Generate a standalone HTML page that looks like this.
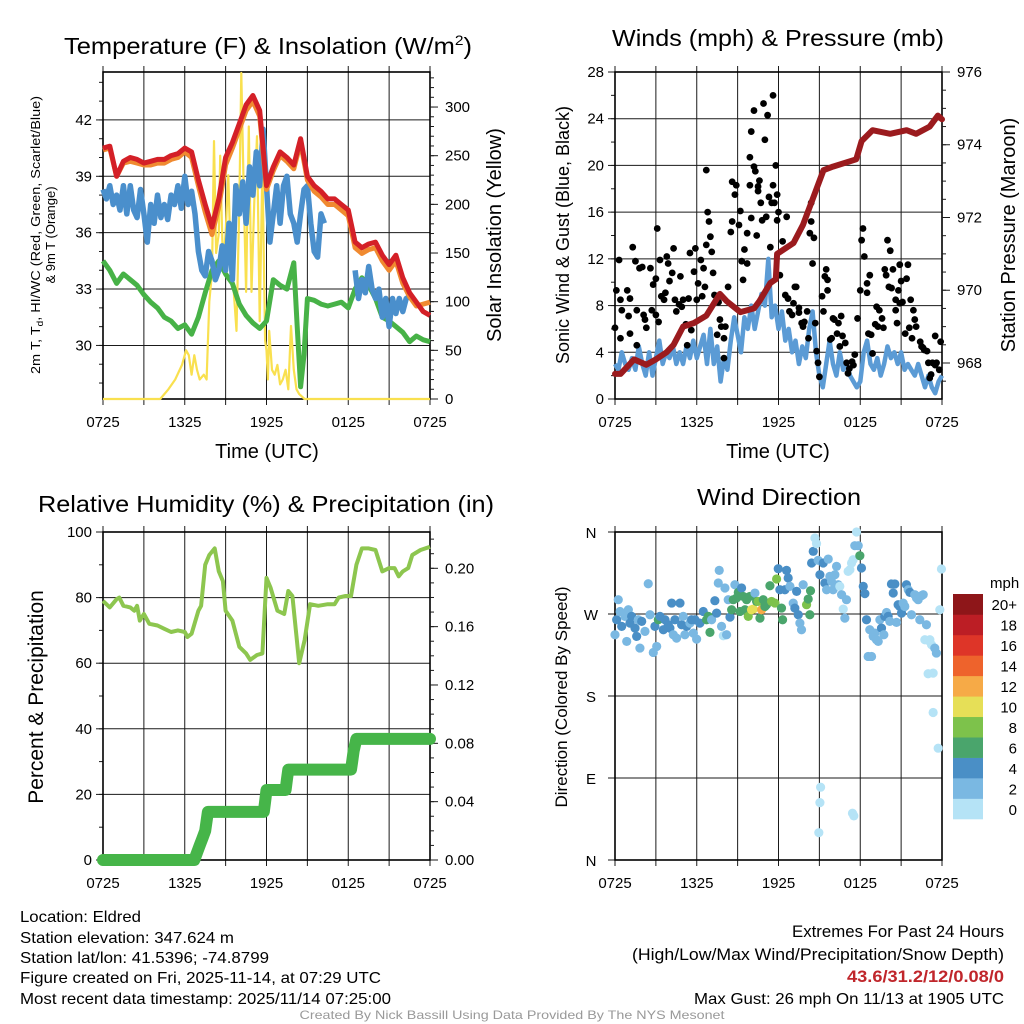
<!DOCTYPE html>
<html><head><meta charset="utf-8"><style>
html,body{margin:0;padding:0;background:#fff;}
svg{display:block;font-family:"Liberation Sans",sans-serif;}
</style></head><body>
<svg id="root" width="1024" height="1024" viewBox="0 0 1024 1024" xmlns="http://www.w3.org/2000/svg">
<g fill="#000">
<text x="64" y="54" font-size="23" textLength="408" lengthAdjust="spacingAndGlyphs">Temperature (F) &amp; Insolation (W/m<tspan font-size="14" dy="-9">2</tspan><tspan dy="9">)</tspan></text>
<text x="612" y="46" font-size="23" textLength="332" lengthAdjust="spacingAndGlyphs">Winds (mph) &amp; Pressure (mb)</text>
<text x="38" y="512" font-size="23" textLength="456" lengthAdjust="spacingAndGlyphs">Relative Humidity (%) &amp; Precipitation (in)</text>
<text x="697" y="505" font-size="23" textLength="164" lengthAdjust="spacingAndGlyphs">Wind Direction</text>
</g>
<g id="p1"></g>
<g id="p2"></g>
<g id="p3"></g>
<g id="p4"></g>
<g fill="#000">
<text x="267" y="458" font-size="20" text-anchor="middle">Time (UTC)</text>
<text x="778" y="458" font-size="20" text-anchor="middle">Time (UTC)</text>
<g transform="translate(40,235) rotate(-90)"><text x="0" y="0" font-size="13" text-anchor="middle" textLength="278" lengthAdjust="spacingAndGlyphs">2m T, T<tspan font-size="9" dy="3">d</tspan><tspan dy="-3">, HI/WC (Red, Green, Scarlet/Blue)</tspan></text><text x="0" y="15" font-size="13" text-anchor="middle">&amp; 9m T (Orange)</text></g>
<text transform="translate(501,235) rotate(-90)" font-size="20" text-anchor="middle">Solar Insolation (Yellow)</text>
<text transform="translate(569,235) rotate(-90)" font-size="18" text-anchor="middle">Sonic Wind &amp; Gust (Blue, Black)</text>
<text transform="translate(1015,235) rotate(-90)" font-size="20" text-anchor="middle">Station Pressure (Maroon)</text>
<text transform="translate(43,697) rotate(-90)" font-size="21" text-anchor="middle">Percent &amp; Precipitation</text>
<text transform="translate(567,697) rotate(-90)" font-size="17" text-anchor="middle">Direction (Colored By Speed)</text>
</g>
<g font-size="16" fill="#000">
<text x="20" y="922" textLength="121" lengthAdjust="spacingAndGlyphs">Location: Eldred</text>
<text x="20" y="943" textLength="214" lengthAdjust="spacingAndGlyphs">Station elevation: 347.624 m</text>
<text x="20" y="963" textLength="249" lengthAdjust="spacingAndGlyphs">Station lat/lon: 41.5396; -74.8799</text>
<text x="20" y="983" textLength="361" lengthAdjust="spacingAndGlyphs">Figure created on Fri, 2025-11-14, at 07:29 UTC</text>
<text x="20" y="1004" textLength="371" lengthAdjust="spacingAndGlyphs">Most recent data timestamp: 2025/11/14 07:25:00</text>
</g>
<g font-size="17" fill="#000" text-anchor="end">
<text x="1004" y="937" textLength="212" lengthAdjust="spacingAndGlyphs">Extremes For Past 24 Hours</text>
<text x="1004" y="960" textLength="372" lengthAdjust="spacingAndGlyphs">(High/Low/Max Wind/Precipitation/Snow Depth)</text>
<text x="1004" y="982" fill="#c0262b" font-weight="bold" textLength="157" lengthAdjust="spacingAndGlyphs">43.6/31.2/12/0.08/0</text>
<text x="1004" y="1004" font-size="16" textLength="310" lengthAdjust="spacingAndGlyphs">Max Gust: 26 mph On 11/13 at 1905 UTC</text>
</g>
<text x="512" y="1019" font-size="12" fill="#999" text-anchor="middle" textLength="425" lengthAdjust="spacingAndGlyphs">Created By Nick Bassill Using Data Provided By The NYS Mesonet</text>
</svg>
<script>
// ---------- data ----------
const xTickLabels = ["0725","1325","1925","0125","0725"];
const tempTicks = [30,33,36,39,42];
const solarTicks = [0,50,100,150,200,250,300];
const tHours05 = [0,0.5,1,1.5,2,2.5,3,3.5,4,4.5,5,5.5,6,6.5,7,7.5,8,8.5,9,9.5,10,10.5,11,11.5,12,12.5,13,13.5,14,14.5,15,15.5,16,16.5,17,17.5,18,18.5,19,19.5,20,20.5,21,21.5,22,22.5,23,23.5,24];
const redTemp = [40.5,40.6,39,39.8,40,39.9,39.7,39.8,39.9,39.9,40.1,40.2,40.5,40.3,38.8,37.5,36.3,37.8,40,40.8,41.8,42.8,43.3,42.5,38.5,39.5,40.3,40,39.6,41,39,38.5,38.2,37.8,37.8,37.5,37.2,35.5,35.2,35.4,35.5,34.8,34.3,34.8,33.6,32.8,32.3,31.8,31.6];
const orangeTemp = [40.4,40.5,39,39.7,39.8,39.7,39.6,39.6,39.7,39.7,39.9,40,40.3,40,38.5,37.1,35.9,37.4,39.6,40.5,41.5,42.5,43,42.2,38.3,39.3,40.1,39.8,39.4,40.8,38.8,38.2,37.9,37.5,37.5,37.2,36.9,35.2,34.9,35.1,35.2,34.5,34,34.5,33.3,32.6,32.1,32.2,32.3];
const greenHours = [0,0.5,1,1.5,2,2.5,3,3.5,4,4.5,5,5.5,6,6.5,7,7.5,8,8.5,9,9.5,10,10.5,11,11.5,12,12.5,13,13.5,14,14.25,14.5,14.75,15,15.5,16,16.5,17,17.5,18,18.5,19,19.5,20,20.5,21,21.5,22,22.5,23,23.5,24];
const greenDew = [34.5,34,33.3,33.8,33.5,33.2,32.7,32.3,32,31.5,31.3,30.9,31.1,30.6,31.5,32.8,34,34.5,33.8,33.3,32.2,31.6,31.2,30.9,31.3,33.5,33.2,33,34.4,31,27.8,29.5,32.5,32.4,32.2,32.1,32.2,32.3,32,33,33.6,33.2,32.5,31.5,31.3,31,30.7,30.2,30.5,30.3,30.2];
const blueHours = [0,0.25,0.5,0.75,1,1.25,1.5,1.75,2,2.25,2.5,2.75,3,3.25,3.5,3.75,4,4.25,4.5,4.75,5,5.25,5.5,5.75,6,6.25,6.5,6.75,7,7.25,7.5,7.75,8,8.25,8.5,8.75,9,9.25,9.5,9.75,10,10.25,10.5,10.75,11,11.25,11.5,11.75,12,12.25,12.5,12.75,13,13.25,13.5,13.75,14,14.25,14.5,14.75,15,15.25,15.5,15.75,16,16.25,16.5,18.25,18.5,18.75,19,19.25,19.5,19.75,20,20.25,20.5,20.75,21,21.25,21.5,21.75,22,22.25,22.5];
const blueChill = [38.3,37.8,38.5,37.5,38,37.2,38.5,37,38.5,37.2,36.8,38.3,37,35.5,37.5,36.5,38,36.8,37.5,36.7,38,37.5,38.5,37.3,39,37.5,38.2,37,35,34,33.7,35,34.5,33.5,34,35.3,34,36.5,33.5,38.5,37,38.7,36.5,39.5,38,40.3,38.5,41.5,38.5,35.5,37,38.5,36.5,38.5,39,37,36.5,35.5,37,38.3,38.5,36.5,35,34.7,37,36.5,null,null,34,32.5,33.5,32.8,34.2,33,32.5,33,31.5,32.5,31,32.5,31.7,32.5,31.8,32.5,32.6];
const solarHours = [0,4.2,4.8,5.3,5.8,6.1,6.3,6.5,6.7,6.9,7.1,7.4,7.6,7.8,8.0,8.15,8.3,8.5,8.6,8.8,9.0,9.2,9.4,9.6,9.8,10.0,10.15,10.35,10.5,10.7,10.9,11.1,11.3,11.5,11.7,11.9,12.0,12.1,12.2,12.4,12.6,12.8,13.0,13.2,13.4,13.6,13.8,14.0,14.2,14.4,14.8,24];
const solarWm2 = [0,0,10,20,35,50,45,25,45,30,20,25,20,100,130,265,150,170,250,140,170,230,130,110,70,200,335,200,110,280,110,200,270,80,240,60,50,20,70,30,25,35,15,20,30,10,75,30,10,5,0,0];

const windTicks = [0,4,8,12,16,20,24,28];
const pressTicks = [968,970,972,974,976];
const sonicHours = [0,0.25,0.5,0.75,1,1.25,1.5,1.75,2,2.25,2.5,2.75,3,3.25,3.5,3.75,4,4.25,4.5,4.75,5,5.25,5.5,5.75,6,6.25,6.5,6.75,7,7.25,7.5,7.75,8,8.25,8.5,8.75,9,9.25,9.5,9.75,10,10.25,10.5,10.75,11,11.25,11.5,11.75,12,12.25,12.5,12.75,13,13.25,13.5,13.75,14,14.25,14.5,14.75,15,15.25,15.5,15.75,16,16.25,16.5,16.75,17,17.25,17.5,17.75,18,18.25,18.5,18.75,19,19.25,19.5,19.75,20,20.25,20.5,20.75,21,21.25,21.5,21.75,22,22.25,22.5,22.75,23,23.25,23.5,23.75,24];
const sonicMph = [3,2.5,4,3,2.5,3.5,2.5,4.5,3,2,4,2,3.5,5,3,4,3.5,4.5,3,4,3,4.5,3.5,5,3.5,4.5,5.5,3,6,3,4.5,1.5,3.5,2.5,5,7,5.5,4,7,6,8,6,7.5,9,8,12,7,8,6,7.5,5,6,4,5,3,4.5,3.5,6,7.5,4,2,1,3,5,3,2,4,2.5,3,2,1.5,1,1.5,4,5,3,2.5,3.5,2,3,4.5,3.5,4,3,4,2.5,3,2.5,2,3,2,1,2,1,0.5,1.5,2];
const gustHours = [0,0.1,0.3,0.4,0.4,0.5,0.9,1.0,1.1,1.1,1.3,1.5,1.6,1.6,1.8,2.0,2.1,2.2,2.3,2.6,2.7,2.8,3.0,3.0,3.1,3.2,3.3,3.4,3.6,3.7,3.8,3.9,4.0,4.2,4.3,4.4,4.5,4.7,4.8,4.9,5.0,5.2,5.3,5.4,5.5,5.6,5.8,5.9,6.0,6.1,6.3,6.4,6.5,6.6,6.7,6.7,6.8,6.9,7.0,7.1,7.2,7.3,7.5,7.6,7.7,7.8,8.0,8.1,8.0,8.3,8.5,8.6,8.6,8.8,8.9,9.1,9.2,9.3,9.4,9.5,9.7,9.7,9.9,9.9,10.0,10.0,10.2,10.2,10.3,10.4,10.5,10.5,10.6,10.7,10.8,10.9,11.0,11.1,11.2,11.3,11.4,11.5,11.6,11.6,11.7,11.8,11.9,11.9,12.0,12.1,12.3,12.5,12.6,12.7,12.8,13.0,13.1,13.2,13.3,13.5,13.5,13.7,13.8,13.9,14.1,14.2,14.3,14.4,14.4,14.5,14.6,14.7,14.8,14.9,15.0,15.2,15.3,15.4,15.5,15.6,15.6,15.8,15.9,16.0,16.1,16.3,16.4,16.5,16.6,16.7,16.9,17.0,17.1,17.2,17.4,17.5,17.6,17.8,18.0,18.1,18.2,18.3,18.5,18.5,18.6,18.7,18.8,18.9,19.1,19.2,19.3,19.4,19.6,19.7,19.8,19.9,20.0,20.1,20.2,20.3,20.4,20.6,20.6,20.7,20.8,20.9,20.9,21.0,21.1,21.3,21.4,21.5,21.6,21.7,21.8,21.9,22.0,22.1,22.4,22.5,22.6,22.7,22.9,23.0,23.1,23.2,23.3,23.5,23.6,23.5,23.8,23.9];
const gustMph = [6.1,9.3,11.9,8.5,5.2,7.6,9.3,7.1,5.6,8.6,13.0,11.8,7.6,4.6,11.2,11.3,7.2,6.8,6.1,11.2,7.6,9.8,7.2,10.3,14.6,6.6,11.9,8.8,8.5,9.1,12.2,11.6,10.1,10.8,12.9,8.5,7.5,8.1,10.5,7.9,8.5,6.4,4.6,8.6,12.5,5.9,10.9,12.9,8.5,9.9,11.9,8.8,11.2,9.6,13.2,19.6,16.0,15.2,13.9,12.6,10.8,8.9,5.5,8.3,6.8,6.2,5.2,6.2,3.5,9.6,14.3,15.2,18.6,17.5,18.3,14.9,16.1,11.8,10.2,12.8,14.2,11.6,18.3,20.7,15.5,22.9,19.9,24.7,19.5,14.0,18.2,17.8,18.7,16.8,15.3,25.3,22.2,15.6,24.3,17.3,13.0,16.8,18.3,26.0,16.8,20.0,17.5,15.3,16.0,10.6,13.5,8.9,15.6,8.6,7.5,7.2,8.2,9.6,9.6,7.8,7.4,6.5,6.2,6.6,7.5,5.2,14.2,16.8,15.2,11.6,13.8,6.5,4.1,3.1,1.9,8.8,7.5,10.5,11.1,9.3,10.2,5.1,5.2,6.9,6.8,5.6,6.5,4.5,7.1,5.4,4.8,3.1,2.2,2.6,3.2,2.9,3.8,6.9,9.3,13.6,14.6,12.2,9.1,9.9,5.6,10.6,5.5,3.9,6.4,7.9,6.2,7.6,6.9,6.1,11.1,10.6,13.6,9.6,12.7,9.5,11.1,8.5,7.6,6.5,9.3,8.2,11.5,10.1,8.3,5.6,10.3,11.5,6.1,8.5,5.2,7.6,6.8,6.2,4.9,4.5,4.4,4.2,4.1,3.1,1.8,2.1,3.1,2.9,3.1,5.4,2.5,4.9];
const pressHours = [0,0.4,1.4,2.3,3,3.8,4.3,5,5.8,6.7,7.7,8.2,9.2,10.2,10.6,11.4,11.8,11.9,13.1,13.8,14.5,15.3,16,17.7,18.1,18.9,20.2,21.4,22.1,23.1,23.7,24];
const pressMb = [967.7,967.7,968.1,967.95,968.1,968.3,968.5,969.0,969.1,969.3,969.9,969.7,969.4,969.5,969.7,970.2,970.3,971.0,971.3,971.8,972.5,973.3,973.4,973.6,974.1,974.4,974.3,974.4,974.3,974.5,974.8,974.7];

const rhTicks = [0,20,40,60,80,100];
const precipTicks = [0,0.04,0.08,0.12,0.16,0.20];
const rhHours = [0,0.5,1,1.2,1.5,2,2.3,2.5,2.7,3,3.4,4,4.5,5,5.5,6,6.2,6.5,7,7.2,7.5,7.8,8.2,8.5,8.8,9,9.5,10,10.5,10.8,11.3,11.7,12,12.3,12.8,13.3,13.6,13.9,14.4,14.8,15.2,15.8,16.5,17,17.3,17.8,18.2,18.6,19,19.5,20,20.5,21,21.4,21.7,22,22.4,22.7,23.3,24];
const rhPct = [79,77,79.5,80,77.5,77,76,77.5,73,75,72,71.5,70.5,69.5,70,69.5,68,69,76,77.5,90,93,95,88,85,76,73,65,63,61,62.5,63,86,83,76,75,82,80.5,60,67,78,77.5,78,78,80,80.5,80.5,90,95,95,94.5,88,89,89,86.5,88,89,93,94.5,95.5];
const precipHours = [0,6.7,6.9,7.1,7.3,7.5,7.7,11.8,11.9,12.0,13.4,13.5,13.6,18.2,18.3,18.4,18.6,24];
const precipIn = [0,0,0.005,0.01,0.015,0.02,0.033,0.033,0.04,0.048,0.048,0.055,0.062,0.062,0.068,0.075,0.083,0.083];

const dirTickLabels = ["N","E","S","W","N"];
const dirTickDeg = [0,90,180,270,360];
const speedBins = ["0","2","4","6","8","10","12","14","16","18","20+"];
const speedColors = ["#b5e3f6","#7ab8e2","#4a8fc6","#4aa56c","#7dc24b","#e6df57","#f6aa47","#ee632c","#de3528","#bc1e25","#8e1619"];
const dirHours = [0,0.12,0.24,0.37,0.49,0.73,0.86,0.98,1.10,1.22,1.47,1.59,1.71,1.83,1.96,2.20,2.44,2.57,2.81,2.93,3.06,3.18,3.30,3.55,3.67,3.91,4.03,4.16,4.28,4.40,4.52,4.77,4.89,5.01,5.13,5.26,5.50,5.62,5.75,5.87,5.99,6.23,6.48,6.72,6.85,6.97,7.09,7.33,7.46,7.58,7.65,7.82,7.95,8.07,8.19,8.31,8.44,8.56,8.68,8.80,8.92,9.05,9.17,9.29,9.41,9.54,9.66,9.78,9.90,10.02,10.15,10.27,10.39,10.51,10.64,10.76,10.88,11.00,11.12,11.37,11.49,11.74,11.86,11.98,12.10,12.22,12.30,12.47,12.59,12.71,12.84,13.08,13.20,13.33,13.45,13.57,13.69,13.81,14.06,14.18,14.30,14.35,14.43,14.55,14.67,14.79,14.91,15.04,15.28,15.40,15.53,15.65,15.77,15.89,16.01,16.14,16.26,16.38,16.50,16.63,16.75,16.87,16.99,17.11,17.24,17.36,17.48,17.60,17.73,17.85,17.97,18.09,18.22,18.34,18.46,18.58,18.70,18.83,18.95,19.07,19.19,19.32,19.44,19.56,19.73,19.80,19.93,20.05,20.17,20.29,20.42,20.54,20.66,20.78,20.90,21.03,21.15,21.27,21.39,21.52,21.64,21.76,22.00,22.13,22.25,22.37,22.49,22.62,22.74,22.86,22.98,22.98,23.11,23.23,23.35,23.35,23.47,23.59,23.72,23.84,23.96,15.09,15.04,14.96,17.43,17.53];
const dirDeg = [247.2,263.7,285.7,272.8,256.4,267.4,239.9,274.7,260.0,267.4,254.5,245.4,263.7,232.6,261.9,250.9,303.2,269.2,227.8,256.4,234.4,263.7,267.4,252.7,263.7,258.2,254.5,282.0,247.2,263.7,243.5,282.0,258.2,267.4,247.2,256.4,260.0,263.7,249.0,263.7,242.4,260.0,272.8,263.7,267.4,249.8,263.7,284.6,271.0,304.0,317.9,256.4,246.1,298.5,247.2,285.7,266.6,274.7,285.7,302.1,287.5,293.7,272.8,298.5,289.3,274.7,285.7,267.4,289.3,274.7,275.4,293.0,283.8,283.8,265.5,274.7,285.7,278.3,280.2,301.0,283.8,282.0,308.4,319.7,296.6,276.5,263.7,296.6,317.9,309.5,300.3,282.0,276.5,294.8,269.2,260.0,252.7,302.1,280.2,286.4,269.2,295.5,326.0,338.8,353.4,347.2,328.9,313.1,326.0,304.0,296.6,330.3,311.3,305.8,296.6,313.1,322.3,302.1,300.3,291.2,275.4,265.5,285.7,316.8,318.6,326.0,329.6,345.0,360,345.0,334.0,320.5,300.3,292.3,263.7,223.4,252.7,223.4,245.4,249.0,241.7,239.9,263.7,254.5,247.2,267.4,271.7,267.4,261.9,302.9,293.0,302.9,260.8,280.2,278.3,271.0,282.0,278.3,302.1,296.6,293.7,269.2,291.2,287.5,285.7,263.7,290.1,291.2,241.7,258.2,241.0,204.4,241.7,236.2,205.1,161.9,232.6,227.1,122.7,274.7,319.4,79.9,63.0,30.0,51.3,48.4];
const dirSpeed = [3,5,3,3,5,3,3,3,5,5,5,5,3,3,5,3,3,3,3,5,3,7,5,5,5,5,5,5,3,5,3,5,5,3,3,5,3,5,3,5,3,5,5,7,7,7,3,5,5,3,3,3,1,3,3,3,5,7,7,3,7,7,7,5,7,7,7,9,7,11,11,3,7,9,7,13,7,7,7,7,9,9,9,5,5,7,7,5,5,5,3,3,5,5,5,3,3,3,9,7,7,7,5,5,1,1,3,5,5,5,3,3,3,3,3,3,3,3,1,3,1,3,3,1,1,1,1,3,1,3,7,5,5,5,5,3,3,3,3,3,3,3,3,5,3,5,3,5,3,5,5,5,3,5,5,5,3,3,5,3,5,3,3,3,3,3,3,3,1,3,1,1,1,1,1,1,3,3,1,1,1,1,1,1,1,1];

// ---------- helpers ----------
const NS = "http://www.w3.org/2000/svg";
function mk(parent, tag, attrs) {
  const e = document.createElementNS(NS, tag);
  for (const k in attrs) e.setAttribute(k, attrs[k]);
  parent.appendChild(e);
  return e;
}
function linScale(d0, d1, r0, r1) { return v => r0 + (v - d0) / (d1 - d0) * (r1 - r0); }
function pathFrom(xs, ys, fx, fy) {
  let d = "", pen = false;
  for (let i = 0; i < xs.length; i++) {
    if (ys[i] === null) { pen = false; continue; }
    d += (pen ? "L" : "M") + fx(xs[i]).toFixed(1) + "," + fy(ys[i]).toFixed(1);
    pen = true;
  }
  return d;
}

function frame(g, L, R, T, B, fx, yMajor, fy, yMinorStep, yMin, yMax, leftLabels, fmt, showX) {
  const grid = mk(g, "g", {stroke: "#1a1a1a", "stroke-width": 1});
  
  
  for (let h = 0; h <= 24; h += 3) {
    const x = fx(h);
    mk(grid, "line", {x1: x, x2: x, y1: T, y2: B});
    mk(grid, "line", {x1: x, x2: x, y1: T - 6, y2: T});
    mk(grid, "line", {x1: x, x2: x, y1: B, y2: B + 6});
  }
  yMajor.forEach(v => { const y = fy(v); mk(grid, "line", {x1: L, x2: R, y1: y, y2: y}); mk(grid, "line", {x1: L - 7, x2: L, y1: y, y2: y}); });
  if (yMinorStep) for (let v = yMin; v <= yMax + 1e-9; v += yMinorStep) { const y = fy(v); if (y >= T - 0.5 && y <= B + 0.5) mk(grid, "line", {x1: L - 4, x2: L, y1: y, y2: y}); }
  const box = mk(g, "rect", {x: L, y: T, width: R - L, height: B - T, fill: "none", stroke: "#000", "stroke-width": 1.6});
  
  
  if (showX) {
    const xl = mk(g, "g", {"font-size": 15, "text-anchor": "middle"});
    
    
    xTickLabels.forEach((s, i) => { const t = mk(xl, "text", {x: fx(i * 6), y: B + 28}); t.textContent = s; });
  }
  if (leftLabels) {
    const yl = mk(g, "g", {"font-size": 15, "text-anchor": "end"});
    
    
    yMajor.forEach(v => { const t = mk(yl, "text", {x: L - 11, y: fy(v) + 5}); t.textContent = fmt(v); });
  }
}
function rightAxis(g, R, T, B, ticks, fy, minorStep, vmin, vmax, fmt) {
  const a = mk(g, "g", {stroke: "#1a1a1a", "stroke-width": 1});
  
  
  ticks.forEach(v => mk(a, "line", {x1: R, x2: R + 8, y1: fy(v), y2: fy(v)}));
  for (let v = vmin; v <= vmax + 1e-9; v += minorStep) { const y = fy(v); if (y >= T - 0.5 && y <= B + 0.5) mk(a, "line", {x1: R, x2: R + 4, y1: y, y2: y}); }
  const l = mk(g, "g", {"font-size": 15});
  
  
  ticks.forEach(v => { const t = mk(l, "text", {x: R + 15, y: fy(v) + 5}); t.textContent = fmt(v); });
}

// ---------- panel 1 : temperature ----------
(function () {
  const g = document.getElementById("p1");
  const L = 103, R = 430, T = 72, B = 399;
  const fx = linScale(0, 24, L, R);
  const fy = linScale(27.15, 44.55, B, T);
  const fs = linScale(0, 336, B, T);
  frame(g, L, R, T, B, fx, tempTicks, fy, 1, 28, 44, true, v => String(v), true);
  rightAxis(g, R, T, B, solarTicks, fs, 10, 0, 330, v => String(v));
  const s = mk(g, "path", {d: pathFrom(solarHours, solarWm2, fx, fs), fill: "none", stroke: "#f9e04f", "stroke-width": 2.2, "stroke-linejoin": "round"});
  
  
  const gd = mk(g, "path", {d: pathFrom(greenHours, greenDew, fx, fy), fill: "none", stroke: "#47b247", "stroke-width": 5, "stroke-linejoin": "round"});
  
  
  const bl = mk(g, "path", {d: pathFrom(blueHours, blueChill, fx, fy), fill: "none", stroke: "#4a8fcc", "stroke-width": 5.5, "stroke-linejoin": "round"});
  
  
  const or = mk(g, "path", {d: pathFrom(tHours05, orangeTemp, fx, fy), fill: "none", stroke: "#f08a30", "stroke-width": 5, "stroke-linejoin": "round"});
  
  
  const rd = mk(g, "path", {d: pathFrom(tHours05, redTemp, fx, fy), fill: "none", stroke: "#d42027", "stroke-width": 5, "stroke-linejoin": "round"});
  
  
})();

// ---------- panel 2 : winds ----------
(function () {
  const g = document.getElementById("p2");
  const L = 615, R = 942, T = 72, B = 399;
  const fx = linScale(0, 24, L, R);
  const fy = linScale(0, 28, B, T);
  const fp = linScale(967.01, 976, B, T);
  frame(g, L, R, T, B, fx, windTicks, fy, 2, 0, 28, true, v => String(v), true);
  rightAxis(g, R, T, B, pressTicks, fp, 0.5, 967.5, 976, v => String(v));
  const sw = mk(g, "path", {d: pathFrom(sonicHours, sonicMph, fx, fy), fill: "none", stroke: "#5b9bd5", "stroke-width": 4.5, "stroke-linejoin": "round"});
  
  
  const gg = mk(g, "g", {fill: "#000"});
  
  
  gustHours.forEach((h, i) => {
    const c = mk(gg, "circle", {cx: fx(h), cy: fy(gustMph[i]), r: 3.4});
    
    
  });
  const pr = mk(g, "path", {d: pathFrom(pressHours, pressMb, fx, fp), fill: "none", stroke: "#9b1b1e", "stroke-width": 6, "stroke-linejoin": "round", "stroke-linecap": "round"});
  
  
})();

// ---------- panel 3 : humidity ----------
(function () {
  const g = document.getElementById("p3");
  const L = 103, R = 430, T = 532, B = 860;
  const fx = linScale(0, 24, L, R);
  const fy = linScale(0, 100, B, T);
  const fp = linScale(0, 0.2, B, 568.3);
  frame(g, L, R, T, B, fx, rhTicks, fy, 10, 0, 100, true, v => String(v), true);
  rightAxis(g, R, T, B, precipTicks, fp, 0.01, 0, 0.22, v => v.toFixed(2));
  const rh = mk(g, "path", {d: pathFrom(rhHours, rhPct, fx, fy), fill: "none", stroke: "#8dc64f", "stroke-width": 4, "stroke-linejoin": "round"});
  
  
  const pc = mk(g, "path", {d: pathFrom(precipHours, precipIn, fx, fp), fill: "none", stroke: "#46b549", "stroke-width": 12, "stroke-linejoin": "round", "stroke-linecap": "round"});
  
  
})();

// ---------- panel 4 : wind direction ----------
(function () {
  const g = document.getElementById("p4");
  const L = 615, R = 942, T = 532, B = 860;
  const fx = linScale(0, 24, L, R);
  const fy = linScale(0, 360, B, T);
  frame(g, L, R, T, B, fx, dirTickDeg, fy, 0, 0, 0, false, null, true);
  const yl = mk(g, "g", {"font-size": 15, "text-anchor": "middle"});
  
  
  dirTickDeg.forEach((d, i) => { const t = mk(yl, "text", {x: 591, y: fy(d) + 6}); t.textContent = dirTickLabels[i]; });
  const pts = mk(g, "g", {});
  
  
  dirHours.forEach((h, i) => {
    const ci = Math.min(10, Math.floor(dirSpeed[i] / 2));
    const c = mk(pts, "circle", {cx: fx(h), cy: fy(dirDeg[i]), r: 4.6, fill: speedColors[ci]});
    
    
  });
  const cb = mk(g, "g", {});
  
  
  const cbTop = 594, cbBot = 819, n = speedBins.length, bh = (cbBot - cbTop) / n;
  speedBins.forEach((lab, i) => {
    const y = cbBot - (i + 1) * bh;
    const r = mk(cb, "rect", {x: 953, y: y, width: 30, height: bh + 0.3, fill: speedColors[i]});
    
    
    const t = mk(cb, "text", {x: 1017, y: y + bh / 2 + 6, "font-size": 15, "text-anchor": "end"});
    
    
    t.textContent = lab;
  });
  const u = mk(cb, "text", {x: 990, y: 588, "font-size": 15});
  
  
  u.textContent = "mph";
})();
</script>
</body></html>
